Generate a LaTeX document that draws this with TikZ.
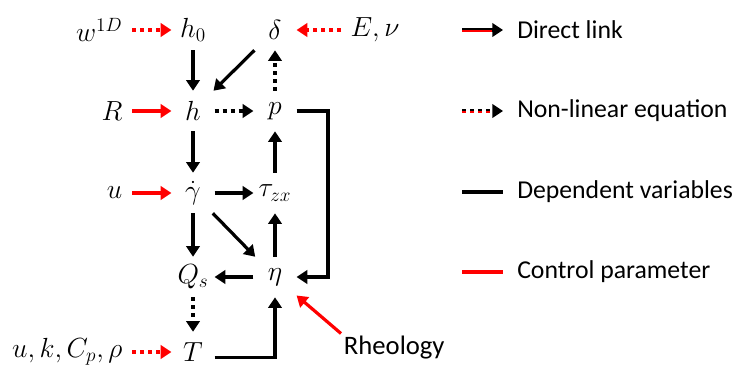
\documentclass[tikz,border=0pt]{standalone}
\usepackage{amsmath}
\usepackage{fontspec}
\setmainfont{Carlito}
\usetikzlibrary{arrows.meta, positioning, calc}

\tikzset{
  var/.style={minimum width=32pt, minimum height=30pt, inner sep=0pt, font=\fontsize{22}{26}\selectfont},
  param/.style={inner xsep=7pt, inner ysep=0pt, font=\fontsize{22}{26}\selectfont},
  legtext/.style={anchor=west, inner sep=0pt, font=\fontsize{19.3}{23}\selectfont},
  link/.style={line width=2.4pt, -{Triangle[length=8pt, width=10pt]}},
  ctrl/.style={link, red},
  nonlin/.style={link, dash pattern=on 3pt off 3pt},
  bus/.style={line width=2.4pt},
}

\begin{document}
\begin{tikzpicture}[x=0.75pt, y=-0.75pt]
    \useasboundingbox (0,0) rectangle (739,372);

    % variables
    \node[var] (h0) at (193, 30) {$h_0$};
    \node[var] (delta) at (275, 30) {$\delta$};
    \node[var] (h) at (193, 111) {$h$};
    \node[var] (p) at (275, 111) {$p$};
    \node[var] (gdot) at (193, 193) {$\dot{\gamma}$};
    \node[var] (tau) at (275, 193) {$\tau_{zx}$};
    \node[var] (Qs) at (193, 277) {$Q_s$};
    \node[var] (eta) at (275, 277) {$\eta$};
    \node[var] (T) at (193, 352) {$T$};

    % parameters
    \node[param, anchor=east] (w) at (132, 30) {$w^{1D}$};
    \node[param, anchor=west] (E) at (341, 30) {$E,\nu$};
    \node[param, anchor=east] (R) at (132, 111) {$R$};
    \node[param, anchor=east] (u) at (132, 193) {$u$};
    \node[param, anchor=east] (ukc) at (132, 352) {$u,k,C_p,\rho$};
    \node[legtext, inner sep=2pt, font=\fontsize{20}{24}\selectfont] (rheo) at (341, 348) {Rheology};
    \coordinate (rail) at (328, 111);

    % control parameters
    \draw[ctrl, dash pattern=on 3pt off 3pt] (w) -- (h0);
    \draw[ctrl, dash pattern=on 3pt off 3pt] (E) -- (delta);
    \draw[ctrl] (R) -- (h);
    \draw[ctrl] (u) -- (gdot);
    \draw[ctrl, dash pattern=on 3pt off 3pt] (ukc) -- (T);
    \draw[ctrl] (rheo.north west) -- (eta);

    % links between variables
    \draw[link] (h0) -- (h);
    \draw[link] (delta) -- (h);
    \draw[nonlin] (p) -- (delta);
    \draw[nonlin] (h) -- (p);
    \draw[link] (h) -- (gdot);
    \draw[link] (tau) -- (p);
    \draw[link] (gdot) -- (tau);
    \draw[link] (gdot) -- (eta);
    \draw[link] (eta) -- (tau);
    \draw[link] (gdot) -- (Qs);
    \draw[link] (eta) -- (Qs);
    \draw[nonlin] (Qs) -- (T);
    \draw[link] (p.east) -- (rail) |- (eta.east);
    \draw[link] ([yshift=-4pt]T.east) -| (eta.south);

    % legend
    \coordinate (l1a) at (462, 30);  \coordinate (l1b) at (503, 30);
    \coordinate (l2a) at (462, 111); \coordinate (l2b) at (503, 111);
    \coordinate (l3a) at (462, 192); \coordinate (l3b) at (503, 192);
    \coordinate (l4a) at (462, 272); \coordinate (l4b) at (503, 272);
    \draw[link] (l1a) -- (l1b);
    \draw[red, line width=1.2pt] ([yshift=-0.6pt]l1a) -- ([xshift=-8pt, yshift=-0.6pt]l1b);
    \draw[nonlin] (l2a) -- (l2b);
    \draw[red, line width=1.2pt, dash pattern=on 3pt off 3pt] ([yshift=-0.6pt]l2a) -- ([xshift=-8pt, yshift=-0.6pt]l2b);
    \draw[bus] (l3a) -- (l3b);
    \draw[bus, red] (l4a) -- (l4b);
    \node[legtext] (t1) at (517, 30) {Direct link};
    \node[legtext] (t2) at (517, 111) {Non-linear equation};
    \node[legtext] (t3) at (517, 192) {Dependent variables};
    \node[legtext] (t4) at (517, 272) {Control parameter};
\end{tikzpicture}
\end{document}
